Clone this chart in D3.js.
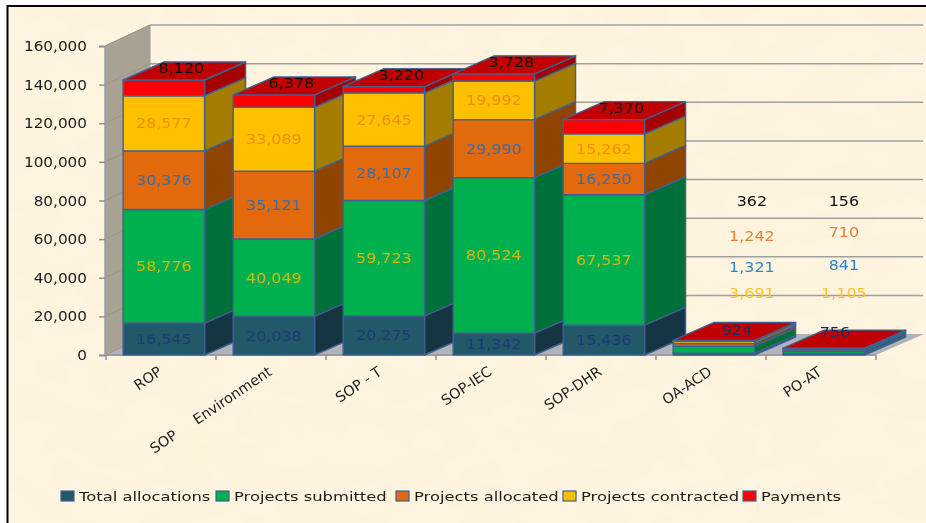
<!DOCTYPE html>
<html>
<head>
<meta charset="utf-8">
<script src="https://d3js.org/d3.v7.min.js"></script>
<style>
  html, body { margin: 0; padding: 0; background: #fff; }
  svg { display: block; }
  text { font-family: "DejaVu Sans", sans-serif; }
</style>
</head>
<body>
<svg width="926" height="523"></svg>
<script>
var categories = ['ROP', 'SOP     Environment', 'SOP - T', 'SOP-IEC', 'SOP-DHR', 'OA-ACD', 'PO-AT'];
var seriesNames = ['Total allocations', 'Projects submitted', 'Projects allocated', 'Projects contracted', 'Payments'];
var totalAllocations = [16545, 20038, 20275, 11342, 15436, 924, 756];
var projectsSubmitted = [58776, 40049, 59723, 80524, 67537, 3691, 1105];
var projectsAllocated = [30376, 35121, 28107, 29990, 16250, 1321, 841];
var projectsContracted = [28577, 33089, 27645, 19992, 15262, 1242, 710];
var payments = [8120, 6378, 3220, 3728, 7370, 362, 156];
var yTicks = [0, 20000, 40000, 60000, 80000, 100000, 120000, 140000, 160000];

var frontColors = ['#215968', '#00b050', '#e26b0a', '#ffc000', '#ff0000'];
var sideColors = ['#163642', '#00703a', '#8f4506', '#a37b00', '#a50000'];
var labelColors = ['#1f3a78', '#d0b810', '#3a6ea8', '#ee9010', '#111111'];
var floatColors = ['#1f2a60', '#ffc526', '#2e86c8', '#e8803a', '#111111'];

var wallDx = 45, wallDy = -21, barDx = 41, barDy = -18;
var edge = '#3f6090';

var svg = d3.select('svg');
var defs = svg.append('defs');

// parchment background
var paper = defs.append('filter').attr('id', 'paper').attr('x', 0).attr('y', 0).attr('width', 1).attr('height', 1);
paper.append('feTurbulence').attr('type', 'fractalNoise').attr('baseFrequency', '0.018 0.03').attr('numOctaves', 3).attr('seed', 7).attr('result', 'n');
paper.append('feColorMatrix').attr('in', 'n').attr('type', 'matrix')
  .attr('values', '0 0 0 0 0.99  0 0 0 0 0.88  0 0 0 0 0.68  1 0 0 0 -0.33').attr('result', 'c');
paper.append('feComposite').attr('in', 'c').attr('in2', 'SourceGraphic').attr('operator', 'over');

var soft = defs.append('filter').attr('id', 'soft');
soft.append('feGaussianBlur').attr('stdDeviation', 0.35);

svg.append('rect').attr('x', 7).attr('y', 6).attr('width', 919).attr('height', 517)
  .attr('fill', '#fef4e0').attr('filter', 'url(#paper)');
svg.append('path').attr('d', 'M7.5,523V6H926').attr('fill', 'none').attr('stroke', '#000').attr('stroke-width', 2);

var chart = svg.append('g').attr('filter', 'url(#soft)');

var y = d3.scaleLinear().domain([0, 160000]).range([355, 46]);
var x = d3.scaleBand().domain(categories).range([106, 876])
  .paddingInner(0.26).paddingOuter(0.13).align(0.6);

function pts(a) { return a.map(function(p) { return p.join(','); }).join(' '); }

// horizontally stretched text, the picture is widened a bit
function label(g, px, py, str, size, color, sx, anchor) {
  return g.append('text')
    .attr('transform', 'translate(' + px + ',' + py + ') scale(' + sx + ',1)')
    .attr('text-anchor', anchor || 'middle')
    .attr('font-size', size)
    .attr('fill', color)
    .text(str);
}

// floor and left wall
var x0 = 105, x1 = 876;
chart.append('polygon')
  .attr('points', pts([[x0, y(0)], [x0 + wallDx, y(0) + wallDy], [x1 + wallDx + 3, y(0) + wallDy], [x1, y(0)]]))
  .attr('fill', '#b0b3ba');
chart.append('polygon')
  .attr('points', pts([[x0, y(160000)], [x0 + wallDx, y(160000) + wallDy], [x0 + wallDx, y(0) + wallDy], [x0, y(0)]]))
  .attr('fill', '#a8a294').attr('stroke', '#9a9fa6').attr('stroke-width', 1);

// gridlines on back wall and left wall
yTicks.forEach(function(t) {
  if (t > 0) {
    chart.append('line').attr('x1', x0 + wallDx).attr('x2', 923)
      .attr('y1', y(t) + wallDy).attr('y2', y(t) + wallDy)
      .attr('stroke', '#9ea0a2').attr('stroke-width', 1.5);
  }
  chart.append('line').attr('x1', x0).attr('x2', x0 + wallDx)
    .attr('y1', y(t)).attr('y2', y(t) + wallDy)
    .attr('stroke', '#9c978c').attr('stroke-width', 1);
});

// axes
var yAxis = d3.axisLeft(y).tickValues(yTicks).tickSize(6).tickPadding(6).tickFormat(d3.format(','));
var yAxisG = chart.append('g').attr('transform', 'translate(' + x0 + ',0)').call(yAxis);
yAxisG.select('.domain').attr('stroke', '#9a9fa6').attr('stroke-width', 2);
yAxisG.selectAll('.tick line').attr('stroke', '#8f9398').attr('stroke-width', 1.5);
yAxisG.selectAll('.tick text').remove();
yTicks.forEach(function(t) {
  label(chart, 87, y(t) + 5, d3.format(',')(t), 14, '#1d1d1d', 1.09, 'end');
});

chart.append('line').attr('x1', x0).attr('x2', x1).attr('y1', y(0)).attr('y2', y(0))
  .attr('stroke', '#9a9fa6').attr('stroke-width', 2);
d3.range(categories.length + 1).forEach(function(i) {
  var tx = x0 + 1 + i * x.step();
  chart.append('line').attr('x1', tx).attr('x2', tx).attr('y1', y(0)).attr('y2', y(0) + 5)
    .attr('stroke', '#8f9398').attr('stroke-width', 1.5);
});

// stacked 3d columns
var rows = categories.map(function(c, i) {
  return {
    cat: c,
    'Total allocations': totalAllocations[i],
    'Projects submitted': projectsSubmitted[i],
    'Projects allocated': projectsAllocated[i],
    'Projects contracted': projectsContracted[i],
    'Payments': payments[i]
  };
});
var stacked = d3.stack().keys(seriesNames)(rows);

var w = x.bandwidth();
var bars = chart.append('g').attr('stroke', edge).attr('stroke-width', 1.4).attr('stroke-linejoin', 'round');
categories.forEach(function(c, i) {
  var bx = x(c);
  stacked.forEach(function(s, k) {
    var y0 = y(s[i][0]), y1 = y(s[i][1]);
    bars.append('polygon')
      .attr('points', pts([[bx + w, y0], [bx + w + barDx, y0 + barDy], [bx + w + barDx, y1 + barDy], [bx + w, y1]]))
      .attr('fill', sideColors[k]);
    bars.append('rect').attr('x', bx).attr('y', y1).attr('width', w).attr('height', y0 - y1)
      .attr('fill', frontColors[k]);
  });
  var top = y(stacked[4][i][1]);
  bars.append('polygon')
    .attr('points', pts([[bx, top], [bx + barDx, top + barDy], [bx + w + barDx, top + barDy], [bx + w, top]]))
    .attr('fill', '#c00000');
});

// value labels
var labels = chart.append('g');
var fmt = d3.format(',');
var tall = categories.slice(0, 5);
tall.forEach(function(c) {
  var i = categories.indexOf(c);
  var cx = x(c) + w / 2;
  stacked.forEach(function(s, k) {
    if (k === 4) {
      var top = y(s[i][1]);
      label(labels, cx + barDx / 2 - 3, top + barDy / 2 + 2, fmt(s[i].data.Payments), 13.5, labelColors[k], 1.18);
    } else {
      label(labels, cx, (y(s[i][0]) + y(s[i][1])) / 2 + 5, fmt(s[i][1] - s[i][0]), 13.5, labelColors[k], 1.18);
    }
  });
});

// the two small columns have their labels lifted up the wall
var smallLevels = [[12800, 32000, 45500, 61500, 79500], [11700, 32000, 46500, 63500, 79500]];
var smallShift = [38, 20];
var bottomShift = [-15, -9];
categories.slice(5).forEach(function(c, n) {
  var i = n + 5;
  var cx = x(c) + w / 2 + smallShift[n];
  stacked.forEach(function(s, k) {
    var px = k === 0 ? cx + bottomShift[n] : cx;
    label(labels, px, y(smallLevels[n][k]) + 5, fmt(s[i][1] - s[i][0]), 13.5, floatColors[k], 1.18);
  });
});

// category labels
categories.forEach(function(c) {
  chart.append('text')
    .attr('transform', 'translate(' + (x(c) + w / 2 - 1) + ',374) rotate(-34)')
    .attr('text-anchor', 'end')
    .attr('font-family', '"Open Sans", sans-serif')
    .attr('font-size', 14.3)
    .attr('fill', '#1d1d1d')
    .style('white-space', 'pre')
    .text(c);
});

// legend
var legendX = [61, 216, 396, 563, 743];
seriesNames.forEach(function(n, k) {
  chart.append('rect').attr('x', legendX[k]).attr('y', 491).attr('width', 13).attr('height', 10)
    .attr('fill', frontColors[k]).attr('stroke', edge).attr('stroke-width', 1.2);
  label(chart, legendX[k] + 18, 501, n, 13, '#1d1d1d', 1.26, 'start');
});
</script>
</body>
</html>
